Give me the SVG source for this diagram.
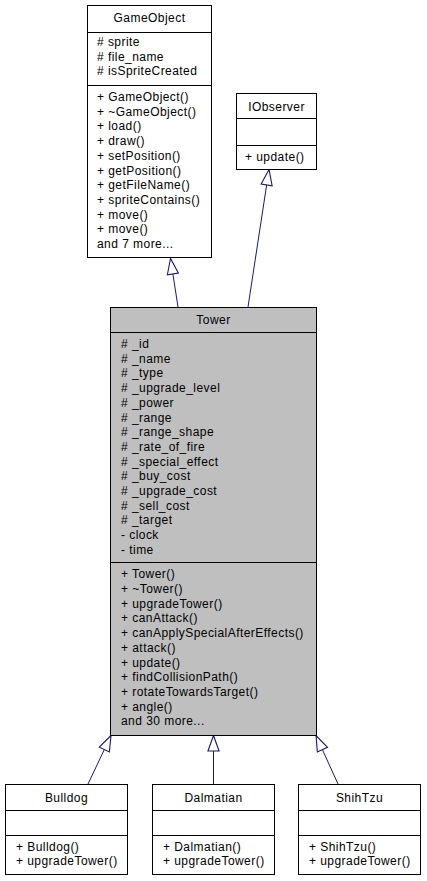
<svg xmlns="http://www.w3.org/2000/svg" width="427" height="881" viewBox="0 0 427 881">
<style>
text{font-family:"Liberation Sans",Arial,sans-serif;font-size:12px;letter-spacing:0.45px;fill:#000}
.c{text-anchor:middle}
.box{fill:#fff;stroke:#000;stroke-width:1}
.cur{fill:#bfbfbf;stroke:#000;stroke-width:1}
.sep{stroke:#000;stroke-width:1}
.edge{stroke:#191970;stroke-width:1;fill:none;marker-end:url(#inh)}
</style>
<defs>
<marker id="inh" markerUnits="userSpaceOnUse" markerWidth="20" markerHeight="20" refX="0" refY="0" viewBox="-16 -8 18 16" orient="auto" overflow="visible">
<path d="M0,0 L-14,-5 L-14,5 Z" fill="#fff" stroke="#191970" stroke-width="1"/>
</marker>
</defs>
<g id="connectors">
<line class="edge" x1="178" y1="307" x2="170.5" y2="258.5"/>
<line class="edge" x1="248" y1="307" x2="269" y2="169.5"/>
<line class="edge" x1="88" y1="784" x2="111" y2="735.5"/>
<line class="edge" x1="213.5" y1="784" x2="213.5" y2="735.5"/>
<line class="edge" x1="338" y1="784" x2="316" y2="735.5"/>
</g>
<g id="GameObject">
<rect class="box" x="87.5" y="5.5" width="124" height="252"/>
<line class="sep" x1="87.5" y1="32.5" x2="211.5" y2="32.5"/>
<line class="sep" x1="87.5" y1="85.5" x2="211.5" y2="85.5"/>
<text class="c" x="149.5" y="22">GameObject</text>
<text x="97" y="46"># sprite</text>
<text x="97" y="60.5"># file_name</text>
<text x="97" y="75"># isSpriteCreated</text>
<text x="97" y="101"><tspan x="97" dy="0">+ GameObject()</tspan><tspan x="97" dy="14.7">+ ~GameObject()</tspan><tspan x="97" dy="14.7">+ load()</tspan><tspan x="97" dy="14.7">+ draw()</tspan><tspan x="97" dy="14.7">+ setPosition()</tspan><tspan x="97" dy="14.7">+ getPosition()</tspan><tspan x="97" dy="14.7">+ getFileName()</tspan><tspan x="97" dy="14.7">+ spriteContains()</tspan><tspan x="97" dy="14.7">+ move()</tspan><tspan x="97" dy="14.7">+ move()</tspan><tspan x="97" dy="14.7">and 7 more...</tspan></text>
</g>
<g id="IObserver">
<rect class="box" x="236.5" y="93.5" width="80" height="76"/>
<line class="sep" x1="236.5" y1="118.5" x2="316.5" y2="118.5"/>
<line class="sep" x1="236.5" y1="145.5" x2="316.5" y2="145.5"/>
<text class="c" x="276.5" y="110.5">IObserver</text>
<text x="245" y="161">+ update()</text>
</g>
<g id="Tower">
<rect class="cur" x="110.5" y="307.5" width="206" height="428"/>
<line class="sep" x1="110.5" y1="332.5" x2="316.5" y2="332.5"/>
<line class="sep" x1="110.5" y1="562.5" x2="316.5" y2="562.5"/>
<text class="c" x="213.5" y="323.5">Tower</text>
<text x="121" y="348"><tspan x="121" dy="0"># _id</tspan><tspan x="121" dy="14.7"># _name</tspan><tspan x="121" dy="14.7"># _type</tspan><tspan x="121" dy="14.7"># _upgrade_level</tspan><tspan x="121" dy="14.7"># _power</tspan><tspan x="121" dy="14.7"># _range</tspan><tspan x="121" dy="14.7"># _range_shape</tspan><tspan x="121" dy="14.7"># _rate_of_fire</tspan><tspan x="121" dy="14.7"># _special_effect</tspan><tspan x="121" dy="14.7"># _buy_cost</tspan><tspan x="121" dy="14.7"># _upgrade_cost</tspan><tspan x="121" dy="14.7"># _sell_cost</tspan><tspan x="121" dy="14.7"># _target</tspan><tspan x="121" dy="14.7">- clock</tspan><tspan x="121" dy="14.7">- time</tspan></text>
<text x="121" y="578.3"><tspan x="121" dy="0">+ Tower()</tspan><tspan x="121" dy="14.7">+ ~Tower()</tspan><tspan x="121" dy="14.7">+ upgradeTower()</tspan><tspan x="121" dy="14.7">+ canAttack()</tspan><tspan x="121" dy="14.7">+ canApplySpecialAfterEffects()</tspan><tspan x="121" dy="14.7">+ attack()</tspan><tspan x="121" dy="14.7">+ update()</tspan><tspan x="121" dy="14.7">+ findCollisionPath()</tspan><tspan x="121" dy="14.7">+ rotateTowardsTarget()</tspan><tspan x="121" dy="14.7">+ angle()</tspan><tspan x="121" dy="14.7">and 30 more...</tspan></text>
</g>
<g id="Bulldog">
<rect class="box" x="5.5" y="784.5" width="122" height="90"/>
<line class="sep" x1="5.5" y1="810.5" x2="127.5" y2="810.5"/>
<line class="sep" x1="5.5" y1="835.5" x2="127.5" y2="835.5"/>
<text class="c" x="66.5" y="802">Bulldog</text>
<text x="16" y="850.5">+ Bulldog()</text>
<text x="16" y="865.2">+ upgradeTower()</text>
</g>
<g id="Dalmatian">
<rect class="box" x="152.5" y="784.5" width="122" height="90"/>
<line class="sep" x1="152.5" y1="810.5" x2="274.5" y2="810.5"/>
<line class="sep" x1="152.5" y1="835.5" x2="274.5" y2="835.5"/>
<text class="c" x="213.5" y="802">Dalmatian</text>
<text x="163" y="850.5">+ Dalmatian()</text>
<text x="163" y="865.2">+ upgradeTower()</text>
</g>
<g id="ShihTzu">
<rect class="box" x="298.5" y="784.5" width="122" height="90"/>
<line class="sep" x1="298.5" y1="810.5" x2="420.5" y2="810.5"/>
<line class="sep" x1="298.5" y1="835.5" x2="420.5" y2="835.5"/>
<text class="c" x="359.5" y="802">ShihTzu</text>
<text x="309" y="850.5">+ ShihTzu()</text>
<text x="309" y="865.2">+ upgradeTower()</text>
</g>
</svg>
